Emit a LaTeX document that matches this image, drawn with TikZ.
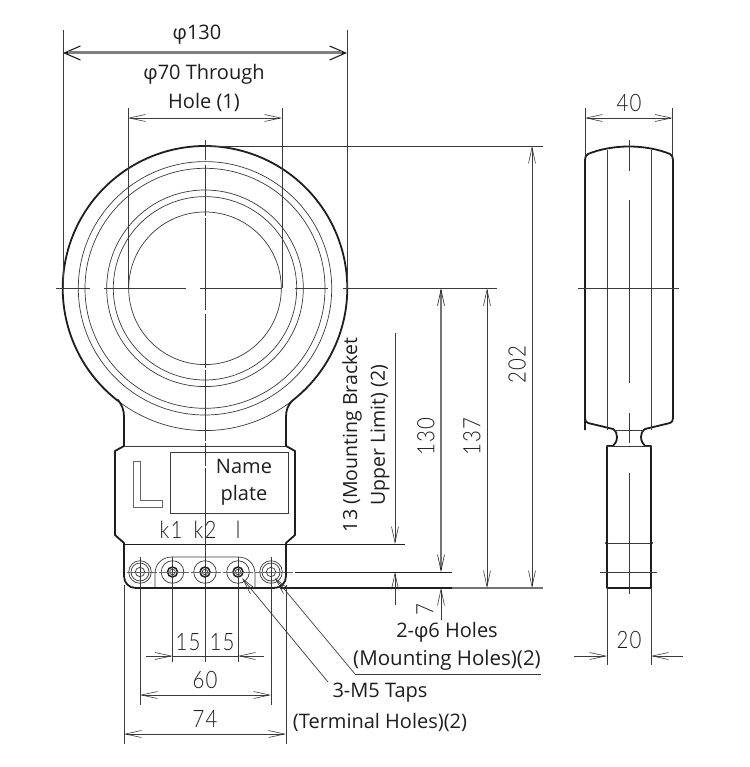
\documentclass[tikz,border=0pt]{standalone}
\usepackage{fontspec}
\setmainfont{Open Sans}
\newfontfamily\din[FakeStretch=0.85,LetterSpace=5]{Lato Light}
\usetikzlibrary{arrows.meta}
\definecolor{ink}{HTML}{1E1E1E}
\definecolor{dimg}{HTML}{3A3A3A}
\tikzset{
  outline/.style={draw=ink,line width=1.8pt,line join=round},
  thin line/.style={draw=dimg,line width=0.7pt},
  dimline/.style={draw=dimg,line width=0.7pt,>={Straight Barb[length=16pt,width=7pt,line width=0.6pt]}},
  label/.style={font=\fontsize{20}{22}\selectfont,inner sep=0pt,text=ink},
  dimtext/.style={font=\din\fontsize{24}{26}\selectfont,inner sep=0pt,text=ink},
}
\begin{document}
\begin{tikzpicture}[x=1pt,y=-1pt]
\useasboundingbox (0,0) rectangle (749,767);
\fill[white] (0,0) rectangle (749,767);
% rings
\foreach \r in {120,126.7,91.7,98.3,76.3}{\draw[thin line] (205,288.3) circle[radius=\r];}
\draw[thin line] plot[domain=52:128,samples=40] ({205+142.3*cos(\x)},{288.3+142.3*sin(\x)});
% outline of the front view
\draw[outline] (124,446) -- (124,417) .. controls (124,410) and (122,405) .. (118,400)
  -- plot[domain=127.8:412.2,samples=160] ({205+142.3*cos(\x)},{288.3+142.3*sin(\x)})
  .. controls (288,405) and (286,410) .. (286,417) -- (286,446) -- (295,451) -- (295,535) -- (286,543)
  -- (286,576) .. controls (286,583) and (281,588) .. (274,588) -- (136,588)
  .. controls (129,588) and (124,583) .. (124,576) -- (124,543) -- (115,535) -- (115,451) -- cycle;
\draw[thin line] (124,446) -- (286,446);
\draw[draw=ink,line width=0.9pt] (124,544) -- (405,544);
\draw[draw=ink,line width=1pt] (295,572) -- (452,572);
\draw[draw=ink,line width=1.7pt] (280,588) -- (452,588);
\draw[draw=black!55,line width=1.3pt] (452,588) -- (543,588);
% name plate and L
\draw[thin line] (170,452) rectangle (288,513);
\draw[draw=black!60,line width=0.7pt] (133,461) -- (140,461) -- (140,500) -- (162,500) -- (162,507) -- (133,507) -- cycle;
\node[label] (nm) at (244,466) {Name};
\node[label] (pl) at (244,495) {plate};
\node[dimtext] (k1) at (171,530) {k1};
\node[dimtext] (k2) at (205,530) {k2};
\node[dimtext] (kl) at (238,530) {l};
% terminal slot
\draw[thin line] (155,587) -- (155,574) .. controls (155,564) and (162,557) .. (172,557) -- (238,557)
  .. controls (248,557) and (255,564) .. (255,574) -- (255,587);
% holes
\foreach \cx in {140,271}{
  \draw[thin line] (\cx,572) circle[radius=11.3];
  \draw[thin line] (\cx,572) circle[radius=9];
  \draw[thin line] (\cx,572) circle[radius=4.7];
}
\foreach \cx in {172.5,205,238}{
  \draw[thin line] (\cx,572) circle[radius=11.3];
  \draw[draw=ink,line width=1.5pt] (\cx,572) circle[radius=5];
  \draw[thin line] (\cx,572) circle[radius=2.8];
}
% centre lines
\foreach \a/\b in {56/90,104/186,200/282,295/328,343/497}{\draw[thin line] (\a,288.3) -- (\b,288.3);}
\foreach \a/\b in {140/160,165/216,218/310,314/368,370/441,443/466,468/662}{\draw[thin line] (205,\a) -- (205,\b);}
\draw[draw=black!60,line width=0.6pt,dash pattern=on 30pt off 2pt] (127,572) -- (293,572);
% extension lines
\draw[thin line] (63,30) -- (63,288);
\draw[thin line] (347,30) -- (347,288);
\draw[thin line] (128,108) -- (128,288);
\draw[thin line] (282,108) -- (282,288);
\draw[thin line] (205,146) -- (543,146);
\foreach \x/\a/\b in {124/585/744,286/585/744,140/557/705,271/557/705,172.5/557/662,238/557/662}{\draw[thin line] (\x,\a) -- (\x,\b);}
% dimensions
\draw[draw=ink,line width=1.1pt,>={Straight Barb[length=16pt,width=14pt,line width=1.1pt]},<->] (63,53) -- (347,53);
\draw[draw=black!50,line width=3pt] (68,53) -- (342,53);
\draw[dimline,<->] (128,118) -- (282,118);
\draw[dimline,<->] (532,146) -- (532,588);
\draw[dimline,<->] (487,288.3) -- (487,588);
\draw[draw=black!55,line width=1.3pt,>={Straight Barb[length=16pt,width=7pt,line width=0.6pt,color=ink]},<->] (441,288.3) -- (441,572);
\draw[dimline,->] (395,333) -- (395,544);
\draw[dimline,->] (395,605) -- (395,572);
\draw[dimline,->] (441,620) -- (441,588);
\draw[dimline,->] (146,656) -- (172.5,656);
\draw[dimline,->] (264,656) -- (238,656);
\draw[dimline] (172.5,656) -- (238,656);
\draw[dimline,<->] (140,695) -- (271,695);
\draw[dimline,<->] (124,734) -- (286,734);
% leaders
\draw[dimline,->] (355,674) -- (275,578);
\draw[dimline] (355,674) -- (541,674);
\draw[dimline,->] (328,682) -- (242,578);
% side view
\draw[outline] (585,430) -- (585,0+160) .. controls (585,157) and (586,155) .. (588,154)
  .. controls (600,149) and (615,146.5) .. (629,146.5) .. controls (643,146.5) and (658,149) .. (670,154)
  .. controls (672,155) and (673,157) .. (673,160) -- (673,418) .. controls (673,421) and (672,422) .. (670,423)
  -- (645,429) .. controls (642,431) and (641,434) .. (641,437) .. controls (641,441) and (643,444) .. (645,446)
  -- (651,446) -- (651,588) -- (607,588) -- (607,446) -- (613,446) .. controls (615,444) and (617,441) .. (617,437)
  .. controls (617,434) and (616,431) .. (613,429) -- (588,423) .. controls (586,422) and (585,421) .. (585,418);
\draw[thin line] (615,430) -- (643,430);
\draw[thin line] (607,446) -- (651,446);
\draw[thin line] (607,543) -- (651,543);
\fill[ink] (606.5,543) circle[radius=1.6] (651.5,543) circle[radius=1.6];
\draw[thin line] (607,150) -- (607,430);
\draw[thin line] (651,150) -- (651,430);
\draw[thin line] (578,288.3) -- (679,288.3);
\draw[thin line] (600,572.5) -- (657,572.5);
\foreach \a/\b in {140/171,200/383,413/443,473/594}{\draw[thin line] (629,\a) -- (629,\b);}
\draw[thin line] (585,108) -- (585,155);
\draw[thin line] (672.5,108) -- (672.5,155);
\draw[dimline,<->] (585,118) -- (672.5,118);
\draw[thin line] (607,588) -- (607,665);
\draw[thin line] (651,588) -- (651,665);
\draw[dimline,->] (574,656) -- (607,656);
\draw[dimline,->] (683,656) -- (651,656);
% texts
\node[label] (t1) at (197,35) {φ130};
\node[label] (t2) at (204,74) {φ70 Through};
\node[label] (t3) at (204,102) {Hole (1)};
\node[dimtext] (d40) at (629,103) {40};
\node[dimtext] (d20) at (629,640) {20};
\node[dimtext,rotate=90] (d202) at (517,365) {202};
\node[dimtext,rotate=90] (d137) at (472,437) {137};
\node[dimtext,rotate=90] (d130) at (426,437) {130};
\node[dimtext,rotate=90] (d7) at (425,610) {7};
\node[label,font=\fontsize{19.5}{22}\selectfont,rotate=90] (t4) at (352,435) {13 (Mounting Bracket};
\node[label,font=\fontsize{19.5}{22}\selectfont,rotate=90] (t5) at (380,435) {Upper Limit) (2)};
\node[dimtext] (d15a) at (188,642) {15};
\node[dimtext] (d15b) at (222,642) {15};
\node[dimtext] (d60) at (205,680) {60};
\node[dimtext] (d74) at (205,719) {74};
\node[label] (t6) at (447,632) {2-φ6 Holes};
\node[label,font=\fontsize{20.5}{22}\selectfont] (t7) at (447,660) {(Mounting Holes)(2)};
\node[label] (t8) at (380,693) {3-M5 Taps};
\node[label] (t9) at (380,722) {(Terminal Holes)(2)};
\end{tikzpicture}
\end{document}
